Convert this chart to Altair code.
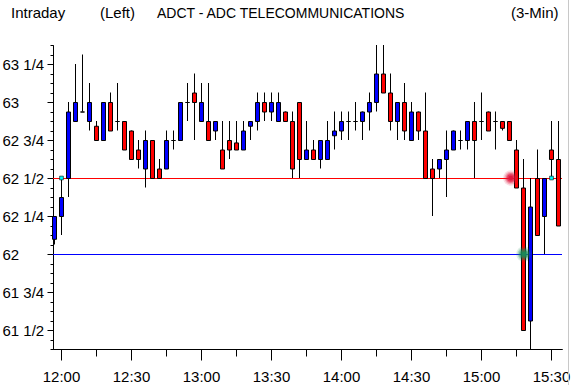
import altair as alt
import pandas as pd

# ---- data (3-minute bars, first bar 11:57) ----
first_bar_minute = 717          # 11:57 as minutes after midnight
bar_minutes = 3
opens = [62.1, 62.25, 62.5, 62.875, 62.9375, 62.875, 62.84375, 62.75, 63.0, 62.875,
         62.875, 62.8125, 62.6875, 62.5625, 62.75, 62.5625, 62.5625, 62.75, 62.75, 63.0,
         63.0625, 62.875, 62.875, 62.8125, 62.6875, 62.75, 62.734, 62.6875, 62.84375, 62.875,
         63.0, 62.9375, 62.875, 62.9375, 62.875, 63.0, 62.625, 62.6875, 62.625, 62.625,
         62.78125, 62.8125, 62.875, 62.875, 62.875, 62.9375, 63.0, 63.1875, 63.0625, 62.875,
         63.0, 62.75, 62.9375, 62.8125, 62.5625, 62.5625, 62.625, 62.6875, 62.75, 62.75,
         62.875, 62.875, 62.9375, 62.875, 62.875, 62.875, 62.6875, 62.4375, 61.5625, 62.5,
         62.25, 62.6875, 62.625]
highs = [62.25, 62.5, 63.0, 63.25, 63.3125, 63.125, 62.875, 63.0, 63.0625, 63.125,
         62.875, 62.8125, 62.75, 62.8125, 62.75, 62.625, 62.8125, 62.8125, 63.0, 63.125,
         63.1875, 63.125, 63.125, 62.875, 62.875, 62.875, 62.875, 62.875, 62.875, 63.0625,
         63.0625, 63.0625, 63.0625, 62.9375, 62.9375, 63.0, 62.875, 62.75, 62.75, 62.875,
         62.9375, 62.9375, 62.9375, 63.0, 62.9375, 63.0625, 63.375, 63.375, 63.1875, 63.0,
         63.125, 63.0, 62.9375, 63.0625, 62.625, 62.625, 62.8125, 62.8125, 62.8125, 62.875,
         63.0, 63.0625, 62.9375, 62.9375, 62.875, 62.875, 62.75, 62.625, 62.5, 62.6875,
         62.5, 62.875, 62.875]
lows = [62.0625, 62.125, 62.375, 62.875, 62.9375, 62.8125, 62.75, 62.75, 62.8125, 62.8125,
        62.6875, 62.625, 62.5625, 62.4375, 62.5, 62.5, 62.5625, 62.6875, 62.75, 62.875,
        62.75, 62.875, 62.75, 62.75, 62.5625, 62.625, 62.6875, 62.6875, 62.75, 62.8125,
        62.875, 62.875, 62.875, 62.875, 62.5, 62.5, 62.625, 62.625, 62.5625, 62.625,
        62.6875, 62.75, 62.75, 62.8125, 62.75, 62.8125, 62.9375, 63.0625, 62.8125, 62.75,
        62.75, 62.75, 62.75, 62.5, 62.25, 62.5, 62.375, 62.6875, 62.6875, 62.6875,
        62.5, 62.75, 62.8125, 62.6875, 62.8125, 62.75, 62.4375, 61.5, 61.375, 62.125,
        62.0, 62.5, 62.1875]
closes = [62.25, 62.375, 62.9375, 63.0, 62.9375, 63.0, 62.75, 63.0, 62.8125, 62.875,
          62.6875, 62.625, 62.625, 62.75, 62.5, 62.5, 62.75, 62.75, 63.0, 63.0,
          63.0, 63.0, 62.75, 62.875, 62.5625, 62.6875, 62.6875, 62.8125, 62.875, 63.0,
          62.9375, 63.0, 63.0, 62.875, 62.5625, 62.625, 62.6875, 62.625, 62.75, 62.75,
          62.8125, 62.875, 62.875, 62.875, 62.9375, 63.0, 63.1875, 63.0625, 62.875, 63.0,
          62.8125, 62.9375, 62.8125, 62.5, 62.5, 62.625, 62.6875, 62.8125, 62.75, 62.875,
          62.75, 62.875, 62.8125, 62.875, 62.83, 62.75, 62.4375, 61.5, 62.3125, 62.125,
          62.5, 62.625, 62.1875]

level_prices = [62.5, 62.0]
level_colors = ["#ff0000", "#0000ff"]
marker_minutes = [720, 930]          # small cyan handles at 62 1/2
marker_prices = [62.5, 62.5]
glow_minutes = [912.8, 918.4]
glow_prices = [62.5, 62.0]
glow_colors = ["#e0143c", "#1a8a58"]

title_parts = ["Intraday", "(Left)", "ADCT - ADC TELECOMMUNICATIONS", "(3-Min)"]

FONT = "Liberation Sans, Arial, sans-serif"

n = len(opens)
df = pd.DataFrame({
    "t": [first_bar_minute + bar_minutes * i for i in range(n)],
    "open": opens, "high": highs, "low": lows, "close": closes,
})

W, H = 509, 304
xs = alt.Scale(domain=[716.5714, 934.7143], nice=False, zero=False, padding=0)
ys = alt.Scale(domain=[61.375, 63.375], nice=False, zero=False, padding=0)

minor_x = list(range(720, 931, 15))
major_x = list(range(720, 931, 30))
minor_y = [61.375 + i / 16 for i in range(33)]
major_y = [61.5 + i / 4 for i in range(8)]

axis_common = dict(grid=False, title=None, domainColor="black", domainWidth=1,
                   tickColor="black", tickWidth=1, labelColor="black",
                   labelFont=FONT, labelFontSize=15)

x_minor_axis = alt.Axis(values=minor_x, tickSize=7, labels=False, orient="bottom", **axis_common)
x_major_axis = alt.Axis(values=major_x, tickSize=11, labelPadding=21, labelBaseline="alphabetic",
                        orient="bottom",
                        labelExpr="floor(datum.value/60) + ':' + (datum.value % 60 == 0 ? '00' : '30')",
                        labelFlush=False, labelOverlap=False, **axis_common)
y_minor_axis = alt.Axis(values=minor_y, tickSize=3, labels=False, orient="left", **axis_common)
y_major_axis = alt.Axis(values=major_y, tickSize=6, labelPadding=45, labelAlign="left",
                        labelBaseline="middle", orient="left", labelOverlap=False,
                        labelExpr="floor(datum.value) + (datum.value % 1 == 0.25 ? ' 1/4' : datum.value % 1 == 0.5 ? ' 1/2' : datum.value % 1 == 0.75 ? ' 3/4' : '')",
                        **axis_common)

levels = alt.Chart(pd.DataFrame({"p": level_prices, "c": level_colors})).mark_rule(
    strokeWidth=1, yOffset=0.5).encode(
    y=alt.Y("p:Q", scale=ys, axis=None),
    color=alt.Color("c:N", scale=None),
)

wicks = alt.Chart(df).mark_rule(color="black", strokeWidth=1, xOffset=0.5).encode(
    x=alt.X("t:Q", scale=xs, axis=x_minor_axis),
    y=alt.Y("low:Q", scale=ys, axis=y_minor_axis),
    y2="high:Q",
)

bodies = alt.Chart(df).mark_bar(size=4, stroke="black", strokeWidth=1,
                                xOffset=0.5, yOffset=0.5, y2Offset=0.5).encode(
    x=alt.X("t:Q", scale=xs, axis=x_major_axis),
    y=alt.Y("open:Q", scale=ys, axis=y_major_axis),
    y2="close:Q",
    color=alt.condition("datum.close > datum.open", alt.value("#0000ff"), alt.value("#ff0000")),
)

markers = alt.Chart(pd.DataFrame({"t": marker_minutes, "p": marker_prices})).mark_square(
    size=14, color="#00ffff", opacity=1, stroke="black", strokeWidth=0.6, xOffset=0.5
).encode(x=alt.X("t:Q", scale=xs, axis=None), y=alt.Y("p:Q", scale=ys, axis=None))

gdf = pd.DataFrame({"t": glow_minutes, "p": glow_prices, "c": glow_colors})
glows = []
for sz, op in [(240, 0.15), (160, 0.25), (100, 0.4), (55, 0.6), (22, 0.9)]:
    glows.append(alt.Chart(gdf).mark_circle(size=sz, opacity=op).encode(
        x=alt.X("t:Q", scale=xs, axis=None), y=alt.Y("p:Q", scale=ys, axis=None),
        color=alt.Color("c:N", scale=None)))

title_x = [-42, 47, 104, 458]
title_size = [15, 15, 14, 15]
titles = []
for txt, px, fs in zip(title_parts, title_x, title_size):
    titles.append(alt.Chart(pd.DataFrame({"s": [txt]})).mark_text(
        align="left", baseline="alphabetic", font=FONT, fontSize=fs, color="black"
    ).encode(text="s:N", x=alt.value(px), y=alt.value(-27)))

edge = alt.Chart(pd.DataFrame({"a": [0]})).mark_rule(color="#c8c8c8", strokeWidth=1).encode(
    x=alt.value(515.5), y=alt.value(-45), y2=alt.value(340))

chart = alt.layer(levels, wicks, bodies, markers, *glows, *titles, edge).resolve_axis(
    x="independent", y="independent"
).properties(
    width=W, height=H,
    padding={"left": 53, "top": 45, "right": 11, "bottom": 36},
    autosize=alt.AutoSizeParams(type="none"),
    background="white",
).configure_view(stroke=None)

chart.save("out.html", embed_options={"renderer": "svg", "actions": False})
